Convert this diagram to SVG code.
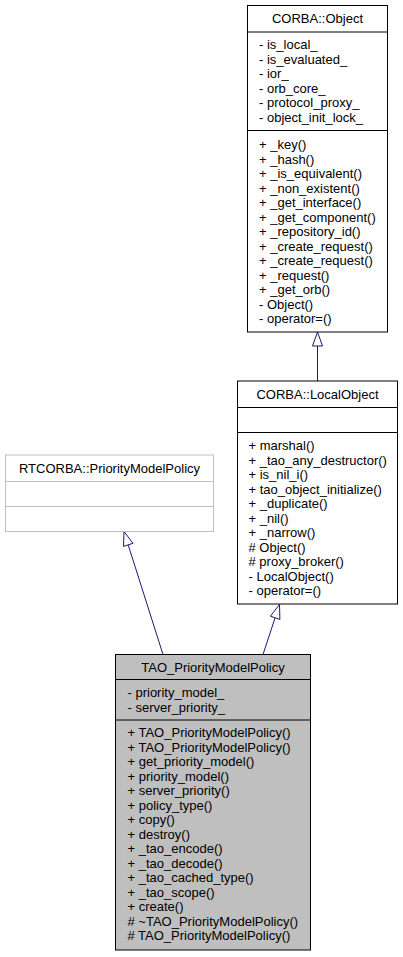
<svg xmlns="http://www.w3.org/2000/svg" width="403" height="957" viewBox="0 0 403 957">
<style>
text{font-family:"Liberation Sans",Arial,Helvetica,sans-serif;font-size:13px;fill:#000}
.t{text-anchor:middle}
.box{fill:#fff;stroke:#000;stroke-width:1}
.sep{stroke:#000;stroke-width:1}
.grey{fill:#fff;stroke:#bfbfbf;stroke-width:1}
.gsep{stroke:#bfbfbf;stroke-width:1}
.cur{fill:#bfbfbf;stroke:#000;stroke-width:1}
.edge{stroke:#191970;stroke-width:1;fill:none}
.head{fill:#fff;stroke:#191970;stroke-width:1}
</style>
<rect width="403" height="957" fill="#fff"/>
<g id="connectors">
<line class="edge" x1="317.5" y1="381" x2="317.5" y2="346"/>
<polygon class="head" points="317.5,332 322.5,346 312.5,346"/>
<line class="edge" x1="263" y1="654.5" x2="275.1" y2="617.8"/>
<polygon class="head" points="279.5,604.5 279.9,619.4 270.4,616.2"/>
<line class="edge" x1="163" y1="654.5" x2="128.2" y2="544.9"/>
<polygon class="head" points="124,531.5 133,543.3 123.5,546.4"/>
</g>
<g id="corba_object">
<rect class="box" x="247.5" y="5.5" width="140" height="326.5"/>
<text class="t" x="317.5" y="23">CORBA::Object</text>
<line class="sep" x1="247.5" y1="32" x2="387.5" y2="32"/>
<text x="259" y="49">- is_local_</text>
<text x="259" y="63.5">- is_evaluated_</text>
<text x="259" y="78">- ior_</text>
<text x="259" y="92.5">- orb_core_</text>
<text x="259" y="107">- protocol_proxy_</text>
<text x="259" y="121.5">- object_init_lock_</text>
<line class="sep" x1="247.5" y1="130.5" x2="387.5" y2="130.5"/>
<text x="259" y="149">+ _key()</text>
<text x="259" y="163.5">+ _hash()</text>
<text x="259" y="178">+ _is_equivalent()</text>
<text x="259" y="192.5">+ _non_existent()</text>
<text x="259" y="207">+ _get_interface()</text>
<text x="259" y="221.5">+ _get_component()</text>
<text x="259" y="236">+ _repository_id()</text>
<text x="259" y="250.5">+ _create_request()</text>
<text x="259" y="265">+ _create_request()</text>
<text x="259" y="279.5">+ _request()</text>
<text x="259" y="294">+ _get_orb()</text>
<text x="259" y="308.5">- Object()</text>
<text x="259" y="323">- operator=()</text>
</g>
<g id="corba_localobject">
<rect class="box" x="237.5" y="381" width="160" height="223"/>
<text class="t" x="317.5" y="398.5">CORBA::LocalObject</text>
<line class="sep" x1="237.5" y1="407.5" x2="397.5" y2="407.5"/>
<line class="sep" x1="237.5" y1="432.5" x2="397.5" y2="432.5"/>
<text x="248.5" y="450">+ marshal()</text>
<text x="248.5" y="464.5">+ _tao_any_destructor()</text>
<text x="248.5" y="479">+ is_nil_i()</text>
<text x="248.5" y="493.5">+ tao_object_initialize()</text>
<text x="248.5" y="508">+ _duplicate()</text>
<text x="248.5" y="522.5">+ _nil()</text>
<text x="248.5" y="537">+ _narrow()</text>
<text x="248.5" y="551.5"># Object()</text>
<text x="248.5" y="566"># proxy_broker()</text>
<text x="248.5" y="580.5">- LocalObject()</text>
<text x="248.5" y="595">- operator=()</text>
</g>
<g id="rtcorba_prioritymodelpolicy">
<rect class="grey" x="5.5" y="455" width="208" height="76.5"/>
<text class="t" x="109.5" y="472.5">RTCORBA::PriorityModelPolicy</text>
<line class="gsep" x1="5.5" y1="481.5" x2="213.5" y2="481.5"/>
<line class="gsep" x1="5.5" y1="506.5" x2="213.5" y2="506.5"/>
</g>
<g id="tao_prioritymodelpolicy">
<rect class="cur" x="115.5" y="654.5" width="195" height="295.5"/>
<text class="t" x="213" y="671.5">TAO_PriorityModelPolicy</text>
<line class="sep" x1="115.5" y1="679.5" x2="310.5" y2="679.5"/>
<text x="127.5" y="697">- priority_model_</text>
<text x="127.5" y="711.5">- server_priority_</text>
<line class="sep" x1="115.5" y1="720" x2="310.5" y2="720"/>
<text x="127.5" y="737">+ TAO_PriorityModelPolicy()</text>
<text x="127.5" y="751.5">+ TAO_PriorityModelPolicy()</text>
<text x="127.5" y="766">+ get_priority_model()</text>
<text x="127.5" y="780.5">+ priority_model()</text>
<text x="127.5" y="795">+ server_priority()</text>
<text x="127.5" y="809.5">+ policy_type()</text>
<text x="127.5" y="824">+ copy()</text>
<text x="127.5" y="838.5">+ destroy()</text>
<text x="127.5" y="853">+ _tao_encode()</text>
<text x="127.5" y="867.5">+ _tao_decode()</text>
<text x="127.5" y="882">+ _tao_cached_type()</text>
<text x="127.5" y="896.5">+ _tao_scope()</text>
<text x="127.5" y="911">+ create()</text>
<text x="127.5" y="925.5"># ~TAO_PriorityModelPolicy()</text>
<text x="127.5" y="940"># TAO_PriorityModelPolicy()</text>
</g>
</svg>
